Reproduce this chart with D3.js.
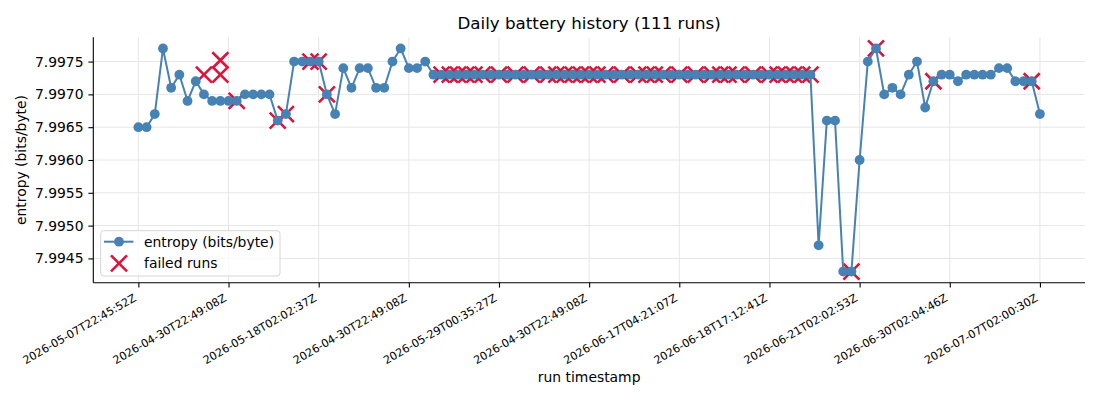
<!DOCTYPE html>
<html>
<head>
<meta charset="utf-8">
<script src="https://cdn.jsdelivr.net/npm/d3@7/dist/d3.min.js"></script>
<style>
  html, body { margin: 0; padding: 0; background: #fff; }
  svg { display: block; font-family: "DejaVu Sans", sans-serif; }
</style>
</head>
<body>
<svg id="chart" width="1100" height="400"></svg>
<script>
// ---- data ----
const chartTitle = "Daily battery history (111 runs)";
const entropy = [
  7.9965, 7.9965, 7.9967, 7.9977, 7.9971, 7.9973, 7.9969, 7.9972, 7.9970, 7.9969,
  7.9969, 7.9969, 7.9969, 7.9970, 7.9970, 7.9970, 7.9970, 7.9966, 7.9967, 7.9975,
  7.9975, 7.9975, 7.9975, 7.9970, 7.9967, 7.9974, 7.9971, 7.9974, 7.9974, 7.9971,
  7.9971, 7.9975, 7.9977, 7.9974, 7.9974, 7.9975, 7.9973, 7.9973, 7.9973, 7.9973,
  7.9973, 7.9973, 7.9973, 7.9973, 7.9973, 7.9973, 7.9973, 7.9973, 7.9973, 7.9973,
  7.9973, 7.9973, 7.9973, 7.9973, 7.9973, 7.9973, 7.9973, 7.9973, 7.9973, 7.9973,
  7.9973, 7.9973, 7.9973, 7.9973, 7.9973, 7.9973, 7.9973, 7.9973, 7.9973, 7.9973,
  7.9973, 7.9973, 7.9973, 7.9973, 7.9973, 7.9973, 7.9973, 7.9973, 7.9973, 7.9973,
  7.9973, 7.9973, 7.9973, 7.9947, 7.9966, 7.9966, 7.9943, 7.9943, 7.9960, 7.9975,
  7.9977, 7.9970, 7.9971, 7.9970, 7.9973, 7.9975, 7.9968, 7.9972, 7.9973, 7.9973,
  7.9972, 7.9973, 7.9973, 7.9973, 7.9973, 7.9974, 7.9974, 7.9972, 7.9972, 7.9972,
  7.9967
];
const failedRun = [
  8, 10, 10, 12, 17, 18, 21, 22, 23,
  37, 38, 39, 40, 41, 42, 44, 46, 48, 50, 51, 52, 53, 54, 55, 56, 57, 59,
  61, 62, 63, 64, 66, 68, 70, 71, 72, 73, 75, 77, 78, 79, 80, 81, 82,
  87, 90, 97, 109
];
const failedEntropy = [
  7.9973, 7.9973, 7.99752, 7.9969, 7.9966, 7.9967, 7.9975, 7.9975, 7.9970,
  7.9973, 7.9973, 7.9973, 7.9973, 7.9973, 7.9973, 7.9973, 7.9973, 7.9973, 7.9973, 7.9973, 7.9973, 7.9973, 7.9973, 7.9973, 7.9973, 7.9973, 7.9973,
  7.9973, 7.9973, 7.9973, 7.9973, 7.9973, 7.9973, 7.9973, 7.9973, 7.9973, 7.9973, 7.9973, 7.9973, 7.9973, 7.9973, 7.9973, 7.9973, 7.9973,
  7.9943, 7.9977, 7.9972, 7.9972
];
const tickRuns = [0, 11, 22, 33, 44, 55, 66, 77, 88, 99, 110];
const tickLabels = [
  "2026-05-07T22:45:52Z", "2026-04-30T22:49:08Z", "2026-05-18T02:02:37Z",
  "2026-04-30T22:49:08Z", "2026-05-29T00:35:27Z", "2026-04-30T22:49:08Z",
  "2026-06-17T04:21:07Z", "2026-06-18T17:12:41Z", "2026-06-21T02:02:53Z",
  "2026-06-30T02:04:46Z", "2026-07-07T02:00:30Z"
];
const yTicks = [7.9945, 7.9950, 7.9955, 7.9960, 7.9965, 7.9970, 7.9975];
const seriesNames = ["entropy (bits/byte)", "failed runs"];
const xLabel = "run timestamp";
const yLabel = "entropy (bits/byte)";

// ---- layout ----
const W = 1100, H = 400;
const plot = { left: 93.3, right: 1085, top: 37.3, bottom: 282.7 };
const BLUE = "#4682b4", RED = "#dc143c";
const GRID = "#e6e6e6";

const svg = d3.select("#chart");

const n = entropy.length;
const xPad = (n - 1) * 0.05;
const x = d3.scaleLinear().domain([-xPad, (n - 1) + xPad]).range([plot.left, plot.right]);

const allVals = entropy.concat(failedEntropy);
const yMin = d3.min(allVals), yMax = d3.max(allVals);
const yPad = (yMax - yMin) * 0.05;
const y = d3.scaleLinear().domain([yMin - yPad, yMax + yPad]).range([plot.bottom, plot.top]);

// grid
const grid = svg.append("g");
grid.selectAll("line.gx").data(tickRuns).join("line")
  .attr("x1", d => x(d)).attr("x2", d => x(d))
  .attr("y1", plot.top).attr("y2", plot.bottom)
  .attr("stroke", GRID).attr("stroke-width", 1);
grid.selectAll("line.gy").data(yTicks).join("line")
  .attr("x1", plot.left).attr("x2", plot.right)
  .attr("y1", d => y(d)).attr("y2", d => y(d))
  .attr("stroke", GRID).attr("stroke-width", 1);

// failed runs (drawn beneath the line)
const xs = 8;
const failed = failedRun.map((r, i) => ({ r, v: failedEntropy[i] }));
const fg = svg.append("g");
fg.selectAll("path").data(failed).join("path")
  .attr("d", d => {
    const cx = x(d.r), cy = y(d.v);
    return `M${cx - xs},${cy - xs}L${cx + xs},${cy + xs}M${cx - xs},${cy + xs}L${cx + xs},${cy - xs}`;
  })
  .attr("stroke", RED).attr("stroke-width", 2.6).attr("fill", "none");

// line
const line = d3.line().x((d, i) => x(i)).y(d => y(d));
svg.append("path").datum(entropy)
  .attr("d", line)
  .attr("fill", "none").attr("stroke", BLUE).attr("stroke-width", 2);
svg.append("g").selectAll("circle").data(entropy).join("circle")
  .attr("cx", (d, i) => x(i)).attr("cy", d => y(d)).attr("r", 4.9)
  .attr("fill", BLUE);

// axes
const yAxis = d3.axisLeft(y).tickValues(yTicks).tickFormat(d3.format(".4f")).tickSize(4.9).tickPadding(4.9);
const gy = svg.append("g").attr("transform", `translate(${plot.left},0)`).call(yAxis);
gy.select(".domain").remove();
gy.selectAll(".tick line").attr("stroke", "#000").attr("stroke-width", 1.1);
gy.selectAll(".tick text").attr("font-size", 13.9).attr("fill", "#000")
  .attr("font-family", "DejaVu Sans");

const xAxis = d3.axisBottom(x).tickValues(tickRuns).tickFormat(() => "").tickSize(4.9);
const gx = svg.append("g").attr("transform", `translate(0,${plot.bottom})`).call(xAxis);
gx.select(".domain").remove();
gx.selectAll(".tick line").attr("stroke", "#000").attr("stroke-width", 1.1);

svg.append("g").selectAll("text").data(tickRuns).join("text")
  .attr("transform", d => `translate(${x(d) - 1.3},${plot.bottom + 4.9 + 4.9 + 7.6}) rotate(-30)`)
  .attr("text-anchor", "end")
  .attr("font-size", 11.1)
  .attr("fill", "#000")
  .text((d, i) => tickLabels[i]);

// spines (left & bottom)
svg.append("line").attr("x1", plot.left).attr("x2", plot.left)
  .attr("y1", plot.top).attr("y2", plot.bottom)
  .attr("stroke", "#000").attr("stroke-width", 1.1);
svg.append("line").attr("x1", plot.left).attr("x2", plot.right)
  .attr("y1", plot.bottom).attr("y2", plot.bottom)
  .attr("stroke", "#000").attr("stroke-width", 1.1);

// title & labels
svg.append("text").attr("x", (plot.left + plot.right) / 2).attr("y", 29)
  .attr("text-anchor", "middle").attr("font-size", 16.7).attr("fill", "#000")
  .text(chartTitle);
svg.append("text").attr("x", (plot.left + plot.right) / 2).attr("y", 382)
  .attr("text-anchor", "middle").attr("font-size", 13.9).attr("fill", "#000")
  .text(xLabel);
svg.append("text")
  .attr("transform", `translate(26,${(plot.top + plot.bottom) / 2}) rotate(-90)`)
  .attr("text-anchor", "middle").attr("font-size", 13.9).attr("fill", "#000")
  .text(yLabel);

// legend
const lg = svg.append("g");
lg.append("rect").attr("x", 100.7).attr("y", 230.7).attr("width", 179.3).attr("height", 45.3)
  .attr("rx", 3).attr("fill", "#fff").attr("fill-opacity", 0.8)
  .attr("stroke", "#d6d6d6").attr("stroke-width", 1);
const ly1 = 241.7, ly2 = 263.3, lx = 119;
lg.append("line").attr("x1", 104).attr("x2", 133.5).attr("y1", ly1).attr("y2", ly1)
  .attr("stroke", BLUE).attr("stroke-width", 2);
lg.append("circle").attr("cx", lx).attr("cy", ly1).attr("r", 4.9).attr("fill", BLUE);
lg.append("path")
  .attr("d", `M${lx - xs},${ly2 - xs}L${lx + xs},${ly2 + xs}M${lx - xs},${ly2 + xs}L${lx + xs},${ly2 - xs}`)
  .attr("stroke", RED).attr("stroke-width", 2.6).attr("fill", "none");
lg.selectAll("text").data(seriesNames).join("text")
  .attr("x", 144).attr("y", (d, i) => (i === 0 ? ly1 : ly2) + 5)
  .attr("font-size", 13.9).attr("fill", "#000")
  .text(d => d);
</script>
</body>
</html>
